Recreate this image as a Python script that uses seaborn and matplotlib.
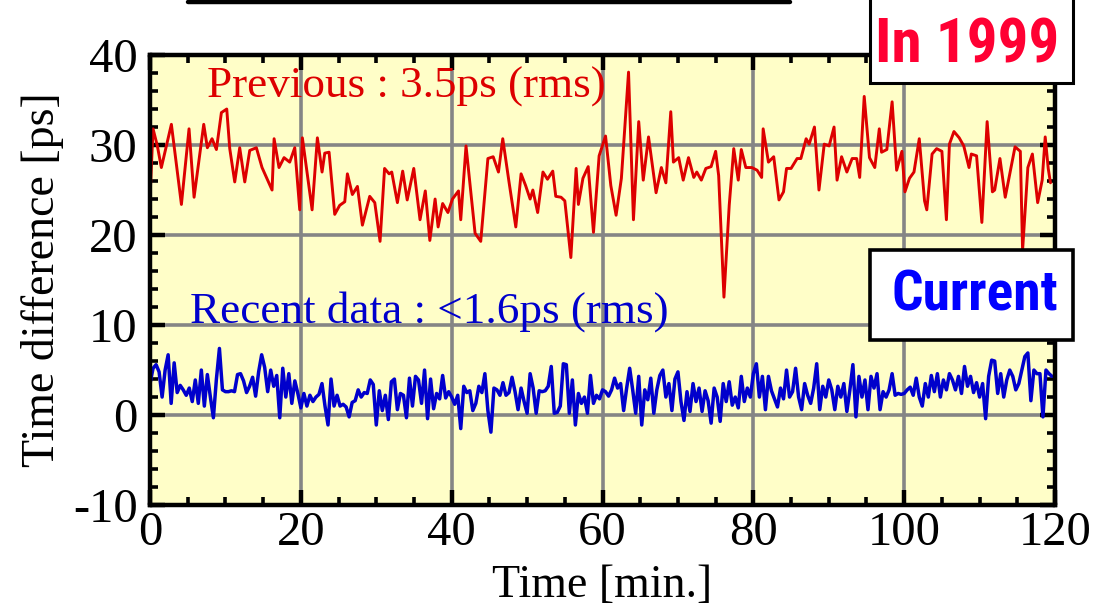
import numpy as np
import pandas as pd
import matplotlib
matplotlib.use('Agg')
import matplotlib.pyplot as plt
import seaborn as sns
from matplotlib.patches import Rectangle
from matplotlib.lines import Line2D
from matplotlib.ticker import MultipleLocator

# ---------------- data ----------------
red_t = [0.0, 0.4, 0.97, 1.5, 2.83, 4.16, 5.17, 5.84, 7.12, 7.6, 8.22, 8.8, 9.46, 10.17, 10.57,
         11.23, 11.89, 12.56, 13.22, 14.1, 14.85, 16.18, 16.45, 17.1, 17.77, 18.52, 19.19, 19.85,
         20.2, 21.49, 22.19, 22.81, 23.17, 23.74, 24.49, 25.15, 25.82, 26.17, 26.83, 27.5, 28.16,
         29.13, 29.8, 30.5, 31.1, 31.7, 32.05, 32.8, 33.5, 34.1, 34.97, 35.8, 36.5, 37.1, 37.8,
         38.2, 38.8, 39.5, 40.1, 40.9, 41.2, 41.9, 43.1, 43.85, 44.8, 45.5, 46.2, 46.77, 47.6,
         48.5, 49.2, 49.8, 50.4, 50.76, 51.4, 52.1, 52.7, 53.4, 53.8, 54.5, 55.0, 55.8, 56.5,
         56.8, 57.4, 58.1, 58.8, 59.55, 60.4, 61.1, 61.8, 62.5, 63.45, 64.1, 64.8, 65.4, 66.1,
         67.1, 67.8, 68.4, 69.05, 69.4, 70.1, 70.7, 71.4, 72.1, 72.5, 73.1, 73.7, 74.4, 75.0,
         75.4, 76.1, 76.8, 77.4, 78.0, 78.4, 79.0, 79.8, 80.5, 81.1, 81.3, 82.0, 82.7, 83.4,
         84.0, 84.4, 85.0, 85.8, 86.3, 87.0, 87.4, 88.1, 88.7, 89.4, 90.05, 90.7, 91.1, 91.7,
         92.4, 93.1, 93.7, 94.1, 94.7, 95.4, 96.1, 96.7, 97.0, 97.7, 98.4, 99.0, 99.7, 100.1,
         100.7, 101.3, 102.0, 102.7, 103.0, 103.7, 104.3, 105.0, 105.6, 106.0, 106.6, 107.3,
         107.9, 108.6, 108.9, 109.6, 110.3, 111.0, 111.7, 112.0, 112.7, 113.4, 114.0, 114.7,
         115.4, 115.7, 116.4, 117.0, 117.7, 118.3, 118.7, 119.1, 119.4]
red_v = [24.2, 31.8, 29.9, 27.5, 32.3, 23.4, 31.8, 24.2, 32.3, 29.7, 30.7, 29.5, 33.6, 34.0, 29.6,
         25.9, 29.7, 25.9, 29.4, 29.7, 27.5, 25.0, 30.7, 27.5, 28.6, 28.1, 29.7, 22.8,
         30.8, 22.8, 30.8, 27.0, 29.1, 29.2, 22.3, 23.3, 23.7, 26.8, 24.5, 25.4, 21.1,
         24.3, 23.6, 19.3, 27.4, 26.8, 27.0, 23.6, 27.1, 23.9, 27.4, 21.7, 24.9, 19.4, 24.0,
         20.9, 23.5, 22.5, 24.0, 24.9, 21.7, 29.9, 20.2, 19.3, 28.5, 28.7, 27.0, 30.7, 25.9,
         20.9, 26.8, 25.5, 24.0, 25.0, 22.5, 27.0, 26.2, 27.1, 24.3, 24.2, 23.8, 17.5, 27.4,
         23.4, 26.3, 27.6, 20.3, 28.8, 31.0, 25.5, 22.2, 26.3, 38.1, 21.7, 32.6, 26.1, 30.9,
         24.7, 27.5, 25.8, 33.7, 28.1, 28.6, 26.1, 28.6, 26.4, 27.0, 26.1, 27.4, 27.6, 29.3,
         26.6, 13.1, 23.3, 29.6, 26.1, 29.5, 27.5, 27.5, 27.2, 26.4, 31.8, 28.1, 28.7, 23.9,
         24.8, 27.4, 27.4, 28.5, 28.5, 30.7, 30.1, 32.0, 25.0, 30.1, 29.9, 32.0, 26.1, 28.7,
         27.0, 28.5, 28.5, 26.4, 35.4, 28.6, 27.5, 31.8, 29.2, 29.5, 34.8, 27.2, 29.3, 24.8,
         26.3, 27.0, 30.7, 23.8, 22.8, 29.0, 29.6, 29.3, 21.7, 30.1, 31.5, 30.8,
         29.9, 27.5, 29.0, 28.8, 21.4, 32.6, 24.8, 25.0, 28.5, 24.2, 26.8, 29.8,
         29.3, 18.3, 27.5, 29.0, 23.6, 26.1, 30.9, 27.4, 25.8]

blue_step = 0.4  # sampling interval [min]
blue_v = [
    3.5, 5.2, 5.6, 4.8, 2.0, 5.0, 6.7, 1.3, 5.8, 2.5, 3.3, 2.8, 2.2, 3.0, 1.5, 3.9, 1.3, 5.0, 1.0, 4.5, 2.0, -0.3, 4.0, 7.4, 2.8,
    2.6, 2.6, 2.7, 2.6, 4.5, 4.6, 3.8, 2.5, 3.2, 4.2, 2.1, 4.8, 6.7, 5.3, 2.6, 5.0, 3.2, 4.4, -0.3, 5.2, 2.0, 4.6, 1.3, 3.8, 2.4,
    0.8, 2.4, 1.0, 2.2, 1.5, 2.0, 2.3, 3.5, 1.0, -1.1, 4.0, 1.0, 2.2, 1.0, 1.2, 0.9, -0.2, 1.4, 1.6, 2.8, 2.0, 2.5, 2.4, 3.9, 3.4,
    -1.1, 2.7, 0.5, 2.2, -0.5, 3.7, 4.0, 0.6, 2.4, 2.2, -0.3, 4.1, 1.0, 4.3, 3.9, 1.3, 5.0, -0.4, 4.0, 0.7, 2.4, 1.8, 4.4, 1.9, 2.6,
    2.0, 1.2, 2.2, -1.5, 3.2, 2.5, 2.7, 0.5, 1.3, 3.2, 2.5, 4.6, 0.5, -1.9, 3.0, 2.8, 2.2, 3.6, 2.2, 2.5, 4.2, 2.6, 0.6, 3.0, 1.5,
    0.2, 4.6, 3.0, 0.2, 2.7, 2.6, 2.7, 3.2, 5.4, 0.2, 0.3, 1.0, 5.7, 5.6, 0.2, 3.9, -1.1, 2.4, 1.3, 2.0, 0.2, 4.4, 1.3, 2.2, 1.8,
    2.8, 2.6, 2.1, 2.8, 4.1, 3.0, 3.5, 0.5, 3.0, 5.2, 2.8, 0.2, 4.3, -1.1, 2.8, 1.7, 4.1, 0.2, 2.8, 4.4, 5.0, 2.0, 3.5, 0.5, 4.0,
    4.8, 1.5, -0.6, 2.6, 0.4, 3.5, 1.5, 3.0, 0.4, 2.7, 1.6, -0.9, 3.0, 2.0, -0.7, 3.5, 1.5, 3.7, 1.1, 2.0, 0.8, 4.3, 1.5, 3.0, 2.0,
    4.6, 5.7, 2.0, 4.3, 0.6, 4.3, 2.7, 1.8, 0.9, 3.0, 1.8, 5.0, 2.0, 2.6, 5.2, 2.0, 0.6, 3.5, 2.2, 1.3, 3.0, 5.7, 0.6, 3.2, 2.0,
    3.9, 2.8, 0.6, 3.2, 2.0, 3.5, 0.4, 2.8, 5.6, -0.2, 4.3, 2.0, 3.9, 0.6, 4.3, 3.0, 4.6, 0.6, 2.6, 2.0, 2.8, 4.6, 2.2, 2.4, 2.3,
    2.4, 2.8, 3.1, 2.2, 4.1, 2.0, 1.0, 3.5, 2.0, 4.4, 2.6, 4.6, 2.0, 3.9, 2.8, 4.6, 3.9, 2.8, 4.3, 2.4, 5.4, 3.2, 4.3, 2.5, 3.6,
    2.0, 3.5, -0.4, 4.3, 6.1, 6.0, 2.4, 4.6, 2.0, 3.9, 5.0, 4.3, 2.8, 3.5, 5.0, 6.5, 6.9, 1.6, 5.0, 4.6, 4.6, -0.2, 5.0, 4.6, 4.3,
]
blue_t = [i * blue_step for i in range(len(blue_v))]

x_ticks = [0, 20, 40, 60, 80, 100, 120]
y_ticks = [-10, 0, 10, 20, 30, 40]

x_label = 'Time [min.]'
y_label = 'Time difference [ps]'
red_note = 'Previous : 3.5ps (rms)'
blue_note = 'Recent data : <1.6ps (rms)'
box_top = 'In 1999'
box_mid = 'Current'

# ---------------- style ----------------
sns.set_style('ticks')
plt.rcParams['font.family'] = ['Liberation Serif', 'DejaVu Serif']
plt.rcParams['axes.unicode_minus'] = False
for k in ['text.color', 'axes.labelcolor', 'xtick.color', 'ytick.color', 'axes.edgecolor']:
    plt.rcParams[k] = 'black'

RED = '#DD0000'
BLUE = '#0000CC'
BG = '#FFFEC8'

fig = plt.figure(figsize=(11, 6.1), dpi=100)
fig.patch.set_facecolor('white')
ax = fig.add_axes([0.1364, 0.172, 0.8227, 0.7378])
ax.set_facecolor(BG)

red_df = pd.DataFrame({'t': red_t, 'v': red_v})
blue_df = pd.DataFrame({'t': blue_t, 'v': blue_v})

sns.lineplot(data=red_df, x='t', y='v', ax=ax, color=RED, lw=2.1,
             sort=False, estimator=None, zorder=3)
sns.lineplot(data=blue_df, x='t', y='v', ax=ax, color=BLUE, lw=2.5,
             sort=False, estimator=None, zorder=3)

ax.set_xlim(0, 120)
ax.set_ylim(-10, 40)
ax.set_xticks(x_ticks)
ax.set_yticks(y_ticks)
ax.xaxis.set_minor_locator(MultipleLocator(5))
ax.yaxis.set_minor_locator(MultipleLocator(2))
ax.set_axisbelow(True)
ax.grid(True, which='major', color='#858585', lw=2.6)
ax.grid(False, which='minor')

for s in ax.spines.values():
    s.set_linewidth(3.2)
    s.set_color('black')
    s.set_zorder(4)

ax.tick_params(which='both', direction='in', top=True, right=True, colors='black')
ax.tick_params(which='major', length=11, width=3.2, labelsize=35)
ax.tick_params(axis='x', which='major', pad=4)
ax.tick_params(axis='y', which='major', pad=9)
ax.tick_params(which='minor', length=6, width=2.6)

ax.set_xlabel(x_label, fontsize=33, labelpad=7)
ax.set_ylabel(y_label, fontsize=33, labelpad=6)

ax.text(7.6, 35.3, red_note, color=RED, fontsize=32.5, ha='left', va='baseline', zorder=5)
ax.text(5.3, 10.3, blue_note, color=BLUE, fontsize=32.5, ha='left', va='baseline', zorder=5)

# title underline at the top of the slide
fig.add_artist(Line2D([0.171, 0.718], [0.9967, 0.9967], transform=fig.transFigure,
                      color='black', lw=3.2))

# framed boxes
fig.add_artist(Rectangle((0.791, 0.864), 0.184, 0.16, transform=fig.transFigure,
                         facecolor='white', edgecolor='black', lw=2.2, zorder=6))
fig.add_artist(Rectangle((0.791, 0.443), 0.184, 0.147, transform=fig.transFigure,
                         facecolor='white', edgecolor='black', lw=2.6, zorder=6))

box_font = ['Liberation Sans Narrow', 'Noto Sans ExtraCondensed', 'Noto Sans Condensed',
            'Roboto Condensed', 'DejaVu Sans']
fig.text(0.879, 0.926, box_top, color='#FF0033', fontsize=44, fontweight='heavy',
         fontstretch='condensed', family=box_font, ha='center', va='center', zorder=7)
fig.text(0.886, 0.515, box_mid, color='#0000FF', fontsize=40, fontweight='heavy',
         fontstretch='condensed', family=box_font, ha='center', va='center', zorder=7)

fig.savefig('out.png', dpi=100, facecolor='white')
